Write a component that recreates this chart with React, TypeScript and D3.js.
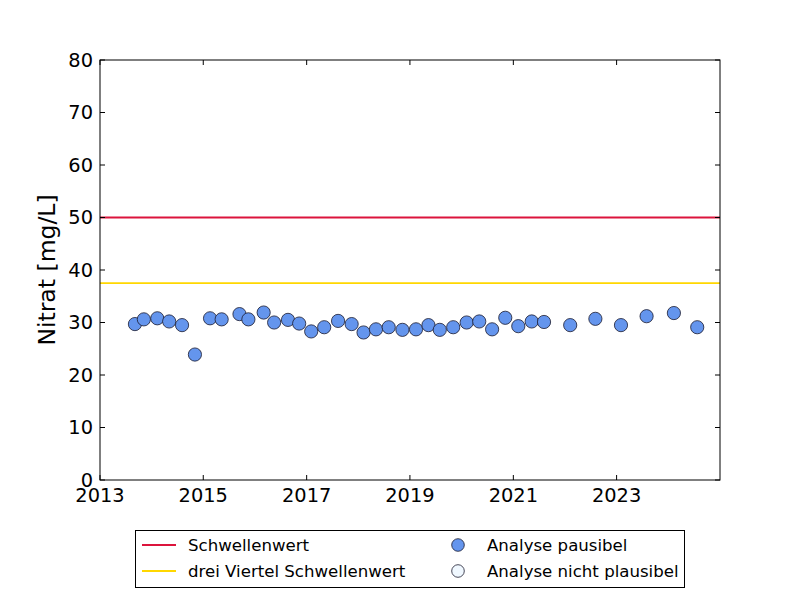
import React from "react";
import * as d3 from "d3";

const sampleDates: string[] = [
  "2013-09-05", "2013-11-07", "2014-02-10", "2014-05-05", "2014-08-04", "2014-11-03",
  "2015-02-18", "2015-05-11", "2015-09-14", "2015-11-16", "2016-03-03", "2016-05-16",
  "2016-08-22", "2016-11-09", "2017-02-02", "2017-05-05", "2017-08-11", "2017-11-15",
  "2018-02-07", "2018-05-06", "2018-08-04", "2018-11-09", "2019-02-13", "2019-05-12",
  "2019-07-31", "2019-11-03", "2020-02-06", "2020-05-05", "2020-08-04", "2020-11-05",
  "2021-02-05", "2021-05-11", "2021-08-06", "2022-02-07", "2022-08-04", "2023-02-01",
  "2023-08-01", "2024-02-10", "2024-07-24",
];
const nitratValues: number[] = [
  29.7, 30.6, 30.8, 30.2, 29.5, 23.9,
  30.8, 30.6, 31.6, 30.6, 31.9, 30.0,
  30.5, 29.8, 28.3, 29.1, 30.3, 29.7,
  28.1, 28.7, 29.1, 28.6, 28.7, 29.5,
  28.6, 29.1, 30.0, 30.2, 28.7, 30.9,
  29.3, 30.2, 30.1, 29.5, 30.7, 29.5,
  31.2, 31.8, 29.1,
];
const threshold = 50;
const threeQuarterThreshold = 37.5;
const yTicks: number[] = [0, 10, 20, 30, 40, 50, 60, 70, 80];
const xTickYears: number[] = [2013, 2015, 2017, 2019, 2021, 2023];
const legendLines = ["Schwellenwert", "drei Viertel Schwellenwert"];
const legendMarkers = ["Analyse pausibel", "Analyse nicht plausibel"];

const W = 800, H = 600;
const L = 100, R = 720, T = 60, B = 480;
const FONT = "DejaVu Sans, sans-serif";

export default function App() {
  const parse = d3.timeParse("%Y-%m-%d");
  const x = d3.scaleTime()
    .domain([new Date(2013, 0, 1), new Date(2025, 0, 1)])
    .range([L, R]);
  const y = d3.scaleLinear().domain([0, 80]).range([B, T]);
  const pts = sampleDates.map((d, i) => ({ date: parse(d)!, v: nitratValues[i] }));
  const tickLen = 5;

  return (
    <svg width={W} height={H} style={{ position: "absolute", left: 0, top: 0, background: "#fff" }}
      fontFamily={FONT}>
      <rect x={0} y={0} width={W} height={H} fill="#fff" />
      <line x1={L} x2={R} y1={y(threshold)} y2={y(threshold)} stroke="#DC143C" strokeWidth={1.8} />
      <line x1={L} x2={R} y1={y(threeQuarterThreshold)} y2={y(threeQuarterThreshold)} stroke="#FFD700" strokeWidth={1.8} />
      {pts.map((p, i) => (
        <circle key={i} cx={x(p.date)} cy={y(p.v)} r={6.6} fill="#6495ED" stroke="#1a1a2e" strokeWidth={0.8} />
      ))}
      {yTicks.map((t) => (
        <g key={"y" + t}>
          <line x1={L} x2={L + tickLen} y1={y(t)} y2={y(t)} stroke="#000" />
          <line x1={R} x2={R - tickLen} y1={y(t)} y2={y(t)} stroke="#000" />
          <text x={L - 7} y={y(t)} dy="0.36em" textAnchor="end" fontSize={19.4} fill="#000">{t}</text>
        </g>
      ))}
      {xTickYears.map((yr) => {
        const px = x(new Date(yr, 0, 1));
        return (
          <g key={"x" + yr}>
            <line x1={px} x2={px} y1={B} y2={B - tickLen} stroke="#000" />
            <line x1={px} x2={px} y1={T} y2={T + tickLen} stroke="#000" />
            <text x={px} y={B + 22} textAnchor="middle" fontSize={19.4} fill="#000">{yr}</text>
          </g>
        );
      })}
      <rect x={L} y={T} width={R - L} height={B - T} fill="none" stroke="#000" strokeWidth={1} />
      <text transform={`translate(55,${(T + B) / 2}) rotate(-90)`} textAnchor="middle" fontSize={23.5} fill="#000">
        Nitrat [mg/L]
      </text>
      <rect x={135.5} y={530.5} width={549} height={57} fill="#fff" stroke="#000" strokeWidth={1} />
      {legendLines.map((lab, i) => (
        <g key={lab}>
          <line x1={142} x2={176} y1={545 + i * 26} y2={545 + i * 26}
            stroke={i === 0 ? "#DC143C" : "#FFD700"} strokeWidth={1.8} />
          <text x={188} y={545 + i * 26} dy="0.36em" fontSize={16.6} fill="#000">{lab}</text>
        </g>
      ))}
      {legendMarkers.map((lab, i) => (
        <g key={lab}>
          <circle cx={458} cy={545 + i * 26} r={6.3}
            fill={i === 0 ? "#6495ED" : "#F0F8FF"} stroke="#1a1a2e" strokeWidth={0.8} />
          <text x={487} y={545 + i * 26} dy="0.36em" fontSize={16.6} fill="#000">{lab}</text>
        </g>
      ))}
    </svg>
  );
}
